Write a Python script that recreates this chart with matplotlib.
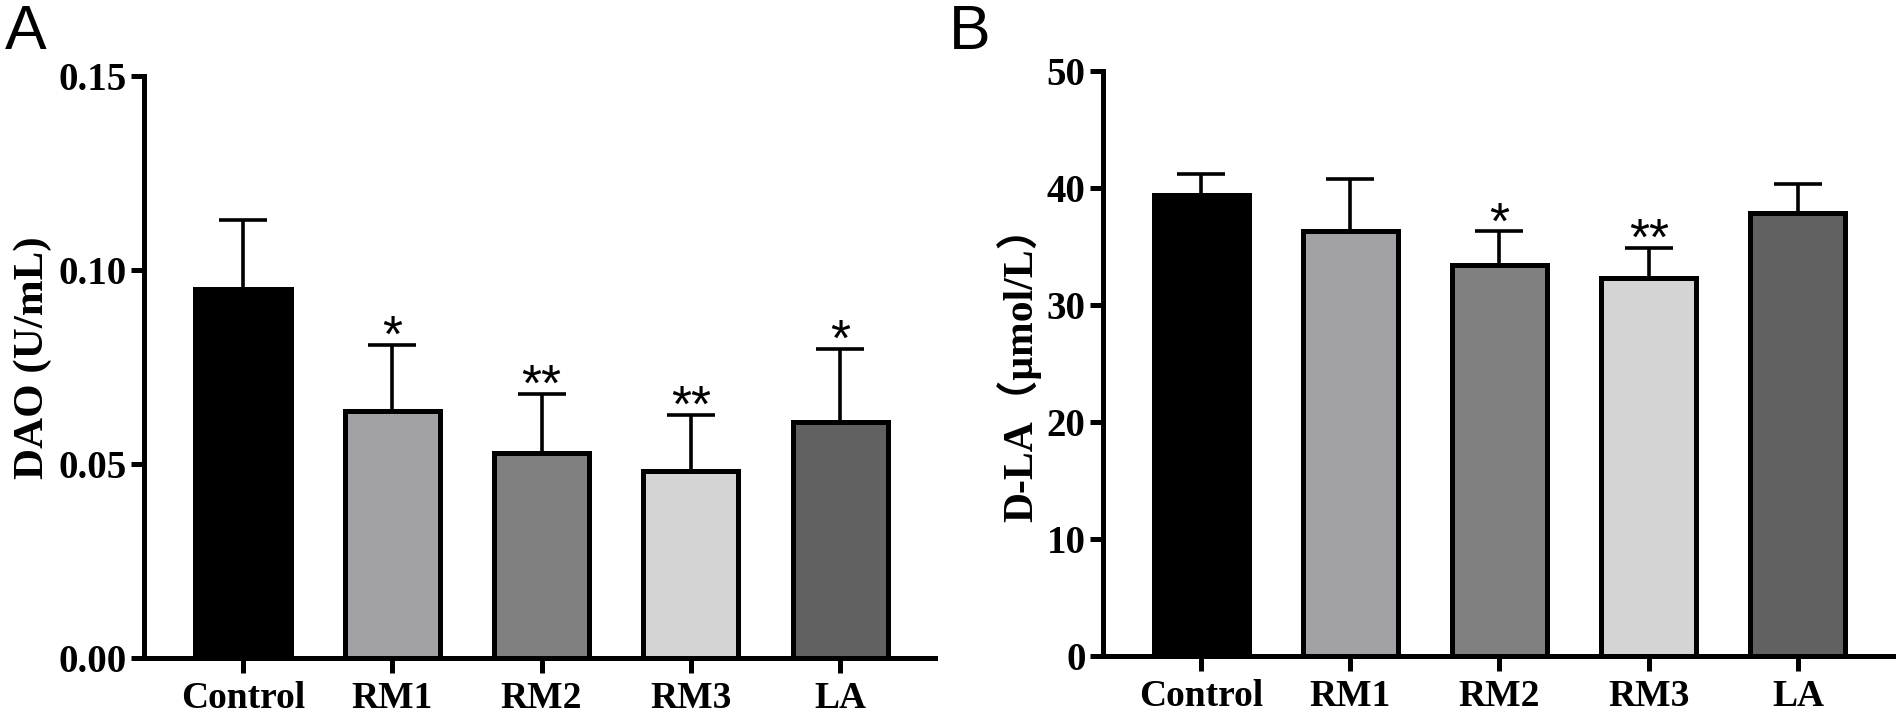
import matplotlib
matplotlib.use("Agg")
import matplotlib.pyplot as plt
import numpy as np

groups = ["Control", "RM1", "RM2", "RM3", "LA"]
colors = ["#000000", "#a2a1a6", "#808080", "#d4d4d4", "#616161"]

dao_mean = [0.0950, 0.0636, 0.0528, 0.0480, 0.0608]
dao_sd = [0.0178, 0.0170, 0.0152, 0.0145, 0.0188]
dao_sig = ["", "*", "**", "**", "*"]

dla_mean = [39.4, 36.3, 33.4, 32.3, 37.9]
dla_sd = [1.8, 4.5, 2.9, 2.6, 2.4]
dla_sig = ["", "", "*", "**", ""]

W, H = 1902, 721
fig = plt.figure(figsize=(W / 100, H / 100), dpi=100)

serif = "Liberation Serif"


def panel(rect, mean, sd, sig, ylim, yticks, fmt, xlim):
    ax = fig.add_axes(rect)
    x = np.arange(len(groups))
    ax.errorbar(x, mean, yerr=[np.zeros(len(sd)), sd], fmt="none", ecolor="black",
                elinewidth=2.6, capsize=17.5, capthick=2.6, zorder=1)
    ax.bar(x, mean, width=0.637, color=colors, edgecolor="black", linewidth=3.6, zorder=2)
    for xi, m, s, t in zip(x, mean, sd, sig):
        if t:
            ax.annotate(t, (xi, m + s), xytext=(0, -5), textcoords="offset points",
                        ha="center", va="baseline", fontsize=37, family="Liberation Sans")
    ax.set_xlim(*xlim)
    ax.set_ylim(*ylim)
    ax.set_yticks(yticks)
    ax.set_yticklabels([fmt.format(v) for v in yticks], fontsize=28, family=serif, fontweight="bold")
    ax.set_xticks(x)
    ax.set_xticklabels(groups, fontsize=27, family=serif, fontweight="bold")
    for side in ["top", "right"]:
        ax.spines[side].set_visible(False)
    for side in ["left", "bottom"]:
        ax.spines[side].set_linewidth(3.6)
        ax.spines[side].set_capstyle("projecting")
    ax.tick_params(axis="y", length=9.5, width=3.6, pad=3)
    ax.tick_params(axis="x", length=10.8, width=3.6, pad=6)
    return ax


panel([144 / W, 63.5 / H, 791 / W, 581.5 / H], dao_mean, dao_sd, dao_sig,
      (0, 0.15), [0, 0.05, 0.10, 0.15], "{:.2f}", (-0.663, 4.636))
panel([1103 / W, 65 / H, 790 / W, 585 / H], dla_mean, dla_sd, dla_sig,
      (0, 50), [0, 10, 20, 30, 40, 50], "{:.0f}", (-0.657, 4.637))

fig.text(33 / W, 1 - 358 / H, "DAO (U/mL)", rotation=90, ha="center", va="center",
         fontsize=31, fontweight="bold", family=serif)
fig.text(1019 / W, 1 - 364 / H, "D-LA（μmol/L）", rotation=90, ha="center", va="center",
         fontsize=30, fontweight="bold", family=[serif, "Noto Sans CJK SC"])

fig.text(5 / W, 1 - 3 / H, "A", ha="left", va="top", fontsize=45, family="Liberation Sans")
fig.text(949 / W, 1 - 3 / H, "B", ha="left", va="top", fontsize=45, family="Liberation Sans")

fig.savefig("out.png", dpi=100)
